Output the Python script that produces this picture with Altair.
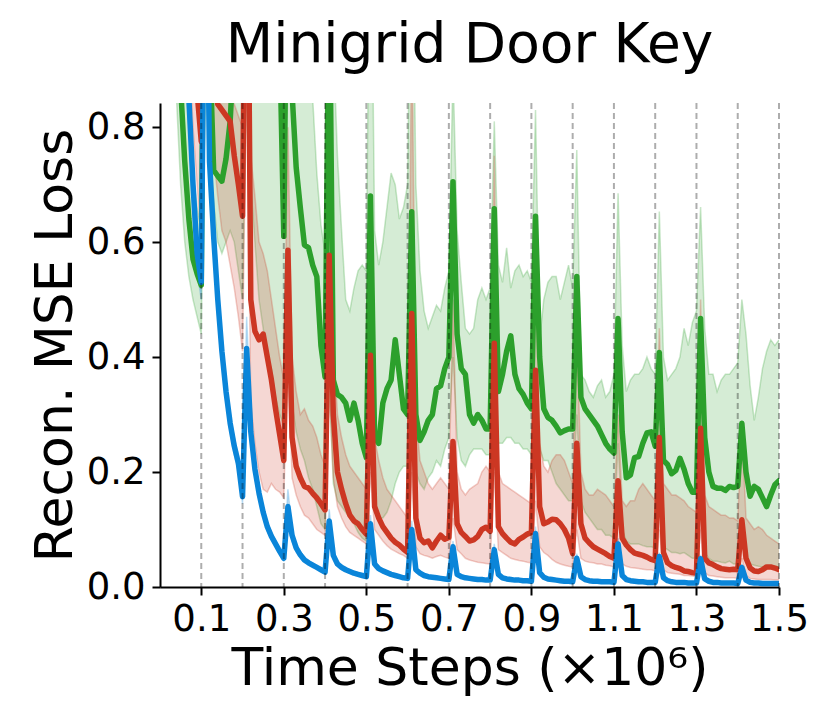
import altair as alt
import pandas as pd

# x positions (x10^6 time steps), 0.00 .. 1.50 every 0.01
t_steps = [round(i * 0.01, 2) for i in range(151)]
boundaries = [0.1, 0.2, 0.3, 0.4, 0.5, 0.6, 0.7, 0.8, 0.9, 1.0, 1.1, 1.2, 1.3, 1.4, 1.5]
x_ticks = [0.1, 0.3, 0.5, 0.7, 0.9, 1.1, 1.3, 1.5]
y_ticks = [0.0, 0.2, 0.4, 0.6, 0.8]

green_mean = [
    1.8, 1.6, 1.4, 1.2, 1.0, 0.87, 0.74, 0.64, 0.57, 0.545, 0.525,
    1.5, 0.95, 0.725, 0.715, 0.706, 0.745, 0.81, 0.95, 1.0, 1.0,
    1.5, 1.3, 1.2, 1.15, 1.1, 1.05, 1.0, 0.98, 0.95, 0.61,
    1.3, 0.86, 0.73, 0.66, 0.595, 0.59, 0.56, 0.54, 0.42, 0.365,
    1.1, 0.36, 0.335, 0.33, 0.32, 0.29, 0.32, 0.29, 0.25, 0.225,
    0.68, 0.26, 0.25, 0.32, 0.345, 0.36, 0.43, 0.37, 0.31, 0.30,
    0.653, 0.30, 0.255, 0.27, 0.29, 0.30, 0.345, 0.35, 0.38, 0.40,
    0.705, 0.44, 0.38, 0.37, 0.30, 0.285, 0.30, 0.29, 0.275, 0.275,
    0.658, 0.34, 0.37, 0.41, 0.437, 0.37, 0.345, 0.335, 0.32, 0.31,
    0.645, 0.40, 0.31, 0.295, 0.29, 0.28, 0.268, 0.272, 0.275, 0.275,
    0.54, 0.33, 0.31, 0.30, 0.29, 0.28, 0.265, 0.25, 0.24, 0.233,
    0.467, 0.27, 0.19, 0.195, 0.225, 0.227, 0.25, 0.268, 0.27, 0.245,
    0.408, 0.22, 0.213, 0.197, 0.203, 0.224, 0.205, 0.18, 0.165, 0.165,
    0.467, 0.26, 0.20, 0.175, 0.172, 0.172, 0.168, 0.175, 0.173, 0.175,
    0.285, 0.20, 0.158, 0.175, 0.17, 0.155, 0.14, 0.16, 0.178, 0.185,
]
green_lo = [
    1.6, 1.4, 1.2, 1.0, 0.85, 0.7, 0.6, 0.54, 0.5, 0.47, 0.44,
    1.0, 0.75, 0.67, 0.6, 0.58, 0.6, 0.62, 0.6, 0.55, 0.5,
    0.9, 0.7, 0.6, 0.5, 0.45, 0.4, 0.38, 0.33, 0.3, 0.28,
    0.45, 0.32, 0.27, 0.24, 0.22, 0.19, 0.17, 0.14, 0.11, 0.10,
    0.35, 0.18, 0.15, 0.14, 0.13, 0.12, 0.11, 0.095, 0.085, 0.08,
    0.3, 0.13, 0.12, 0.12, 0.13, 0.15, 0.18, 0.2, 0.21, 0.21,
    0.35, 0.2, 0.18, 0.17, 0.19, 0.2, 0.22, 0.21, 0.24, 0.26,
    0.4, 0.26, 0.22, 0.21, 0.23, 0.24, 0.24, 0.24, 0.23, 0.23,
    0.4, 0.25, 0.25, 0.26, 0.26, 0.25, 0.25, 0.24, 0.24, 0.23,
    0.35, 0.24, 0.22, 0.22, 0.2, 0.18, 0.17, 0.16, 0.15, 0.15,
    0.3, 0.15, 0.13, 0.12, 0.11, 0.1, 0.1, 0.09, 0.09, 0.085,
    0.25, 0.1, 0.08, 0.075, 0.075, 0.075, 0.072, 0.07, 0.07, 0.068,
    0.18, 0.07, 0.065, 0.06, 0.06, 0.058, 0.06, 0.055, 0.05, 0.05,
    0.2, 0.06, 0.05, 0.045, 0.045, 0.043, 0.042, 0.045, 0.04, 0.04,
    0.1, 0.05, 0.04, 0.038, 0.036, 0.035, 0.034, 0.035, 0.035, 0.035,
]
green_hi = [
    2.5, 2.3, 2.0, 1.7, 1.4, 1.1, 0.95, 0.82, 0.72, 0.66, 0.62,
    2.0, 1.6, 1.3, 1.2, 1.1, 1.1, 1.1, 1.2, 1.3, 1.3,
    2.0, 1.8, 1.7, 1.6, 1.6, 1.5, 1.5, 1.4, 1.4, 1.2,
    1.8, 1.4, 1.2, 1.1, 1.0, 0.95, 0.85, 0.72, 0.63, 0.58,
    1.5, 0.95, 0.75, 0.62, 0.5, 0.48, 0.52, 0.55, 0.56, 0.55,
    1.3, 0.62, 0.56, 0.60, 0.66, 0.72, 0.70, 0.64, 0.66, 0.70,
    1.3, 0.7, 0.55, 0.48, 0.45, 0.47, 0.49, 0.48, 0.52, 0.55,
    0.9, 0.62, 0.53, 0.45, 0.44, 0.45, 0.50, 0.52, 0.50, 0.52,
    0.81, 0.56, 0.53, 0.59, 0.52, 0.55, 0.56, 0.54, 0.55, 0.53,
    0.83, 0.43, 0.50, 0.53, 0.54, 0.54, 0.50, 0.53, 0.56, 0.52,
    0.76, 0.37, 0.36, 0.34, 0.33, 0.35, 0.36, 0.33, 0.34, 0.37,
    0.685, 0.42, 0.34, 0.36, 0.37, 0.37, 0.38, 0.40, 0.38, 0.37,
    0.653, 0.40, 0.36, 0.37, 0.38, 0.40, 0.45, 0.42, 0.46, 0.48,
    0.661, 0.45, 0.37, 0.37, 0.34, 0.36, 0.37, 0.37, 0.38, 0.39,
    0.50, 0.44, 0.35, 0.29, 0.33, 0.38, 0.41, 0.43, 0.42, 0.43,
]

red_mean = [
    2.5, 2.3, 2.1, 1.9, 1.7, 1.5, 1.3, 1.1, 0.95, 0.86, 0.775,
    1.6, 1.1, 0.92, 0.84, 0.83, 0.82, 0.81, 0.75, 0.70, 0.645,
    1.4, 0.50, 0.445, 0.43, 0.44, 0.40, 0.36, 0.31, 0.265, 0.22,
    0.586, 0.26, 0.21, 0.19, 0.175, 0.172, 0.163, 0.155, 0.145, 0.134,
    0.577, 0.30, 0.20, 0.17, 0.145, 0.125, 0.115, 0.11, 0.10, 0.092,
    0.403, 0.14, 0.12, 0.105, 0.095, 0.085, 0.078, 0.073, 0.066, 0.06,
    0.476, 0.12, 0.085, 0.077, 0.08, 0.068, 0.08, 0.09, 0.083, 0.086,
    0.253, 0.11, 0.095, 0.088, 0.08, 0.082, 0.088, 0.10, 0.104, 0.097,
    0.424, 0.105, 0.093, 0.085, 0.078, 0.075, 0.083, 0.087, 0.092, 0.095,
    0.377, 0.14, 0.11, 0.113, 0.118, 0.117, 0.11, 0.10, 0.085, 0.058,
    0.25, 0.11, 0.085, 0.077, 0.07, 0.066, 0.062, 0.058, 0.053, 0.05,
    0.185, 0.085, 0.073, 0.065, 0.059, 0.057, 0.055, 0.052, 0.048, 0.046,
    0.26, 0.06, 0.042, 0.037, 0.034, 0.032, 0.028, 0.027, 0.025, 0.024,
    0.276, 0.05, 0.042, 0.039, 0.035, 0.032, 0.031, 0.03, 0.031, 0.03,
    0.117, 0.05, 0.033, 0.028, 0.027, 0.03, 0.035, 0.035, 0.033, 0.03,
]
red_lo = [
    2.0, 1.85, 1.7, 1.55, 1.4, 1.25, 1.1, 0.95, 0.8, 0.7, 0.6,
    1.2, 0.85, 0.75, 0.68, 0.62, 0.6, 0.56, 0.52, 0.47, 0.41,
    0.9, 0.32, 0.25, 0.2, 0.17, 0.165, 0.18, 0.17, 0.165, 0.155,
    0.4, 0.19, 0.16, 0.14, 0.125, 0.12, 0.11, 0.1, 0.095, 0.09,
    0.35, 0.19, 0.14, 0.12, 0.105, 0.095, 0.09, 0.085, 0.08, 0.075,
    0.2, 0.1, 0.09, 0.08, 0.072, 0.066, 0.062, 0.058, 0.055, 0.05,
    0.2, 0.07, 0.058, 0.055, 0.053, 0.05, 0.053, 0.055, 0.052, 0.05,
    0.12, 0.065, 0.058, 0.05, 0.047, 0.045, 0.043, 0.042, 0.041, 0.04,
    0.2, 0.065, 0.06, 0.055, 0.05, 0.048, 0.046, 0.045, 0.043, 0.042,
    0.15, 0.07, 0.06, 0.055, 0.048, 0.043, 0.04, 0.038, 0.036, 0.035,
    0.1, 0.05, 0.045, 0.043, 0.042, 0.04, 0.04, 0.038, 0.037, 0.035,
    0.08, 0.04, 0.036, 0.034, 0.033, 0.032, 0.031, 0.03, 0.03, 0.028,
    0.1, 0.03, 0.025, 0.024, 0.023, 0.022, 0.02, 0.02, 0.019, 0.018,
    0.1, 0.025, 0.02, 0.019, 0.018, 0.017, 0.016, 0.016, 0.016, 0.015,
    0.05, 0.02, 0.015, 0.014, 0.013, 0.013, 0.013, 0.013, 0.012, 0.012,
]
red_hi = [
    3.0, 2.8, 2.6, 2.4, 2.2, 2.0, 1.8, 1.5, 1.3, 1.1, 1.0,
    2.0, 1.4, 1.1, 0.95, 0.9, 0.88, 0.85, 0.84, 0.82, 0.80,
    1.7, 0.75, 0.68, 0.6, 0.58, 0.55, 0.5, 0.45, 0.4, 0.36,
    0.8, 0.4, 0.34, 0.3, 0.31, 0.29, 0.28, 0.26, 0.23, 0.21,
    0.85, 0.42, 0.3, 0.26, 0.23, 0.21, 0.2, 0.19, 0.18, 0.17,
    0.6, 0.26, 0.22, 0.19, 0.17, 0.16, 0.15, 0.14, 0.13, 0.12,
    1.0, 0.3, 0.22, 0.2, 0.18, 0.17, 0.18, 0.19, 0.18, 0.17,
    0.5, 0.2, 0.17, 0.16, 0.17, 0.175, 0.18, 0.2, 0.21, 0.2,
    0.75, 0.2, 0.18, 0.175, 0.17, 0.165, 0.16, 0.155, 0.15, 0.145,
    0.6, 0.25, 0.21, 0.2, 0.22, 0.23, 0.23, 0.22, 0.2, 0.18,
    0.45, 0.2, 0.17, 0.16, 0.16, 0.17, 0.165, 0.16, 0.15, 0.14,
    0.3, 0.15, 0.14, 0.15, 0.15, 0.17, 0.18, 0.17, 0.16, 0.15,
    0.45, 0.18, 0.17, 0.16, 0.16, 0.155, 0.15, 0.14, 0.135, 0.13,
    0.5, 0.16, 0.14, 0.135, 0.13, 0.125, 0.125, 0.12, 0.12, 0.115,
    0.28, 0.12, 0.11, 0.1, 0.105, 0.1, 0.09, 0.085, 0.08, 0.075,
]

blue_mean = [
    2.0, 1.8, 1.6, 1.4, 1.25, 1.1, 0.98, 0.85, 0.70, 0.58, 0.53,
    1.3, 0.74, 0.61, 0.50, 0.41, 0.34, 0.285, 0.245, 0.215, 0.157,
    0.415, 0.27, 0.205, 0.163, 0.13, 0.105, 0.088, 0.075, 0.062, 0.05,
    0.14, 0.09, 0.068, 0.056, 0.047, 0.042, 0.038, 0.034, 0.03, 0.026,
    0.115, 0.055, 0.04, 0.034, 0.03, 0.027, 0.024, 0.022, 0.02, 0.018,
    0.11, 0.04, 0.032, 0.028, 0.025, 0.022, 0.02, 0.018, 0.016, 0.015,
    0.10, 0.03, 0.024, 0.02, 0.018, 0.017, 0.016, 0.015, 0.014, 0.013,
    0.07, 0.022, 0.018, 0.016, 0.015, 0.014, 0.013, 0.013, 0.012, 0.012,
    0.065, 0.022, 0.016, 0.014, 0.013, 0.012, 0.012, 0.011, 0.011, 0.01,
    0.093, 0.025, 0.017, 0.014, 0.013, 0.012, 0.011, 0.01, 0.01, 0.009,
    0.05, 0.018, 0.013, 0.011, 0.01, 0.01, 0.009, 0.009, 0.009, 0.008,
    0.075, 0.02, 0.013, 0.011, 0.01, 0.009, 0.009, 0.008, 0.008, 0.008,
    0.053, 0.016, 0.011, 0.009, 0.008, 0.008, 0.008, 0.007, 0.007, 0.007,
    0.049, 0.014, 0.01, 0.008, 0.008, 0.007, 0.007, 0.007, 0.007, 0.006,
    0.034, 0.012, 0.008, 0.007, 0.007, 0.006, 0.006, 0.006, 0.006, 0.006,
]
blue_lo = [
    1.9, 1.7, 1.5, 1.3, 1.15, 1.0, 0.91, 0.8, 0.66, 0.55, 0.5,
    1.2, 0.7, 0.58, 0.47, 0.39, 0.32, 0.27, 0.23, 0.2, 0.145,
    0.37, 0.25, 0.19, 0.152, 0.12, 0.097, 0.082, 0.07, 0.057, 0.046,
    0.12, 0.08, 0.061, 0.051, 0.043, 0.038, 0.034, 0.031, 0.027, 0.023,
    0.1, 0.048, 0.036, 0.03, 0.027, 0.024, 0.021, 0.019, 0.018, 0.016,
    0.095, 0.034, 0.028, 0.025, 0.022, 0.02, 0.018, 0.016, 0.014, 0.013,
    0.085, 0.025, 0.021, 0.017, 0.016, 0.015, 0.014, 0.013, 0.012, 0.011,
    0.06, 0.018, 0.015, 0.014, 0.013, 0.012, 0.011, 0.011, 0.01, 0.01,
    0.055, 0.018, 0.013, 0.012, 0.011, 0.01, 0.01, 0.009, 0.009, 0.008,
    0.08, 0.02, 0.014, 0.012, 0.011, 0.01, 0.009, 0.008, 0.008, 0.007,
    0.042, 0.014, 0.011, 0.009, 0.008, 0.008, 0.007, 0.007, 0.007, 0.006,
    0.065, 0.016, 0.011, 0.009, 0.008, 0.007, 0.007, 0.006, 0.006, 0.006,
    0.046, 0.013, 0.009, 0.007, 0.006, 0.006, 0.006, 0.005, 0.005, 0.005,
    0.042, 0.011, 0.008, 0.006, 0.006, 0.005, 0.005, 0.005, 0.005, 0.004,
    0.028, 0.009, 0.006, 0.005, 0.005, 0.004, 0.004, 0.004, 0.004, 0.004,
]
blue_hi = [
    2.1, 1.9, 1.7, 1.5, 1.35, 1.2, 1.05, 0.9, 0.74, 0.61, 0.56,
    1.4, 0.78, 0.64, 0.53, 0.43, 0.36, 0.30, 0.26, 0.23, 0.17,
    0.47, 0.29, 0.22, 0.175, 0.14, 0.113, 0.095, 0.081, 0.067, 0.055,
    0.17, 0.1, 0.075, 0.061, 0.052, 0.046, 0.042, 0.037, 0.033, 0.029,
    0.135, 0.062, 0.045, 0.038, 0.034, 0.03, 0.027, 0.025, 0.023, 0.02,
    0.125, 0.046, 0.036, 0.031, 0.028, 0.025, 0.023, 0.02, 0.018, 0.017,
    0.115, 0.035, 0.027, 0.023, 0.02, 0.019, 0.018, 0.017, 0.016, 0.015,
    0.08, 0.026, 0.021, 0.018, 0.017, 0.016, 0.015, 0.015, 0.014, 0.014,
    0.075, 0.026, 0.019, 0.016, 0.015, 0.014, 0.014, 0.013, 0.013, 0.012,
    0.105, 0.03, 0.02, 0.016, 0.015, 0.014, 0.013, 0.012, 0.012, 0.011,
    0.058, 0.022, 0.015, 0.013, 0.012, 0.012, 0.011, 0.011, 0.011, 0.01,
    0.085, 0.024, 0.015, 0.013, 0.012, 0.011, 0.011, 0.01, 0.01, 0.01,
    0.06, 0.019, 0.013, 0.011, 0.01, 0.01, 0.01, 0.009, 0.009, 0.009,
    0.056, 0.017, 0.012, 0.01, 0.01, 0.009, 0.009, 0.009, 0.009, 0.008,
    0.04, 0.015, 0.01, 0.009, 0.009, 0.008, 0.008, 0.008, 0.008, 0.008,
]

series_info = [
    ("green", "#2ca02c", green_mean, green_lo, green_hi),
    ("red", "#cc3723", red_mean, red_lo, red_hi),
    ("blue", "#0a85d9", blue_mean, blue_lo, blue_hi),
]

rows = []
for name, _, m, lo, hi in series_info:
    for t, a, b, c in zip(t_steps, m, lo, hi):
        rows.append({"t": t, "series": name, "mean": a, "lo": b, "hi": c})
df = pd.DataFrame(rows)
rules_df = pd.DataFrame({"t": boundaries})

FONT = "DejaVu Sans"
x_scale = alt.Scale(domain=[0, 1.5], nice=False, zero=False)
y_scale = alt.Scale(domain=[0, 0.842], nice=False, zero=False)

x_enc = alt.X("t:Q", scale=x_scale,
              axis=alt.Axis(values=x_ticks, format=".1f", title="Time Steps (×10⁶)",
                            titlePadding=6, labelPadding=6, labelOverlap=False,
                            labelFlush=False, labelBound=False))
y_axis = alt.Axis(values=y_ticks, format=".1f", title="Recon. MSE Loss",
                  titlePadding=4, labelPadding=7, labelOverlap=False)

layers = []
for name, color, *_ in series_info:
    sub = df[df["series"] == name]
    base = alt.Chart(sub)
    layers.append(base.mark_area(color=color, opacity=0.2, clip=True).encode(
        x=x_enc, y=alt.Y("lo:Q", scale=y_scale, axis=y_axis), y2="hi:Q"))
    layers.append(base.mark_line(color=color, opacity=0.25, strokeWidth=1.5, clip=True).encode(
        x=x_enc, y=alt.Y("lo:Q", scale=y_scale, axis=y_axis)))
    layers.append(base.mark_line(color=color, opacity=0.25, strokeWidth=1.5, clip=True).encode(
        x=x_enc, y=alt.Y("hi:Q", scale=y_scale, axis=y_axis)))

for name, color, *_ in series_info:
    sub = df[df["series"] == name]
    layers.append(alt.Chart(sub).mark_line(color=color, strokeWidth=5.5, strokeJoin="round",
                                           strokeCap="round", clip=True).encode(
        x=x_enc, y=alt.Y("mean:Q", scale=y_scale, axis=y_axis)))

layers.append(alt.Chart(rules_df).mark_rule(color="black", opacity=0.32, strokeDash=[6, 4],
                                            strokeWidth=2).encode(x=x_enc))

chart = alt.layer(*layers).properties(
    width=619, height=484,
    autosize=alt.AutoSizeParams(type="none"),
    padding={"left": 152, "top": 95, "right": 45, "bottom": 133},
    title=alt.TitleParams("Minigrid Door Key", fontSize=55, font=FONT, fontWeight="normal",
                          anchor="middle", offset=28, color="black"),
).configure_view(stroke=None).configure_axis(
    labelFont=FONT, titleFont=FONT, labelFontSize=37, titleFontSize=52,
    titleFontWeight="normal", labelColor="black", titleColor="black",
    domainColor="black", domainWidth=2, tickColor="black", tickWidth=2, tickSize=8,
    grid=False,
)

chart.save("out.html", embed_options={"renderer": "svg", "actions": False})
